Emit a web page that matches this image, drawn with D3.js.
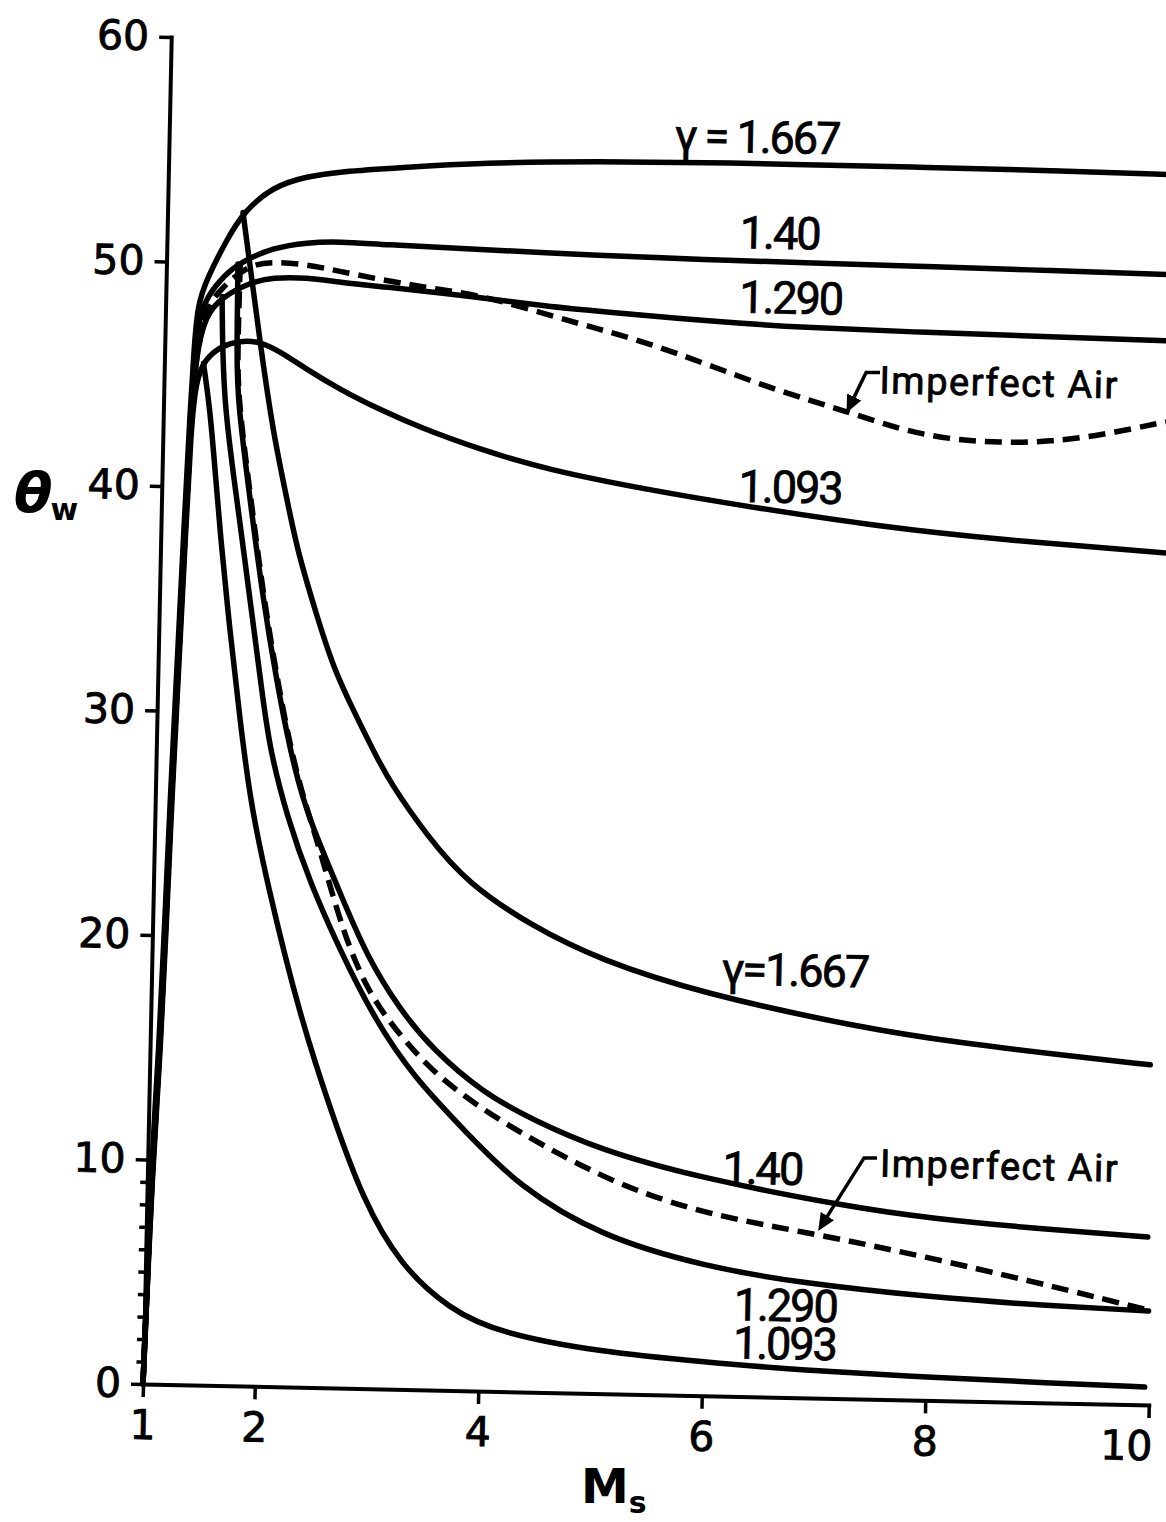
<!DOCTYPE html>
<html><head><meta charset="utf-8">
<script src="https://cdn.jsdelivr.net/npm/d3@7"></script>
<style>
body{margin:0;background:#fff;}
svg{display:block;}
</style>
</head><body>
<svg id="chart" width="1166" height="1522"></svg>
<script>
// ---- tick values ----
const xTicks = [1, 2, 4, 6, 8, 10];
const yTicks = [0, 10, 20, 30, 40, 50, 60];
const yMinorTicks = [1, 2, 3, 4, 5, 6, 7, 8, 9];

// ---- upper (detachment) curves: [Ms, theta_w] ----
const upper1667 = [[1,0],[1.035,10],[1.08,15],[1.105,20],[1.133,26],[1.17,32],[1.205,38],[1.24,43.5],[1.262,46],[1.285,48.1],[1.366,49.3],[1.538,51.05],[1.675,52.25],[1.94,53.45],[2.24,53.92],[2.54,54.17],[3.07,54.4],[3.81,54.7],[4.86,54.86],[5.81,54.91],[6.65,54.91],[7.79,54.9],[8.89,54.87],[10,54.8]];
const upper140 = [[1,0],[1.04,10],[1.087,15],[1.11,20],[1.14,26],[1.178,32],[1.215,38],[1.248,43.5],[1.27,46.2],[1.31,47.6],[1.369,48.48],[1.526,49.48],[1.658,50.02],[1.951,50.72],[2.254,50.98],[2.548,51.05],[2.907,50.96],[3.83,50.83],[4.88,50.67],[5.82,50.59],[6.67,50.54],[7.81,50.49],[8.9,50.42],[10,50.35]];
const upper1290 = [[1,0],[1.043,10],[1.09,15],[1.115,20],[1.143,26],[1.18,32],[1.218,38],[1.25,43.3],[1.28,45.7],[1.355,47.67],[1.513,48.49],[1.751,49.14],[1.953,49.39],[2.257,49.42],[2.556,49.23],[2.915,49.09],[3.838,48.69],[4.41,48.35],[4.88,48.18],[5.9,47.84],[6.68,47.65],[7.82,47.55],[8.92,47.48],[10,47.4]];
const upperAir = [[1,0],[1.043,10],[1.09,15],[1.115,20],[1.143,26],[1.18,32],[1.218,38],[1.252,43.5],[1.29,46.2],[1.37,48.0],[1.484,48.8],[1.721,49.9],[1.952,50.1],[2.257,50.0],[2.554,49.72],[2.914,49.4],[3.273,49.12],[3.838,48.78],[4.414,47.99],[4.89,47.38],[5.31,46.84],[5.91,45.83],[6.51,44.78],[7.12,43.95],[7.59,43.2],[8.05,42.8],[8.49,42.71],[8.94,42.8],[9.38,43.12],[9.97,43.8]];
const upper1093 = [[1,0],[1.046,10],[1.095,15],[1.12,20],[1.148,26],[1.186,32],[1.222,38],[1.25,42.5],[1.286,44.77],[1.363,45.67],[1.495,46.26],[1.673,46.55],[1.852,46.52],[2.032,46.1],[2.277,45.32],[2.576,44.46],[2.937,43.6],[3.3,42.84],[3.84,41.92],[4.44,41.09],[5.34,40.29],[6.24,39.63],[7.43,38.86],[8.51,38.39],[10,37.95]];

// ---- lower curves ----
const lower1667 = [[1.675,52.25],[1.76,49.5],[1.852,46.48],[1.985,42.48],[2.123,39.51],[2.222,37.29],[2.413,34.33],[2.565,32.12],[2.752,30.22],[2.938,28.45],[3.097,27.0],[3.45,24.6],[3.804,22.62],[4.4,20.72],[5.01,19.31],[5.91,17.93],[7.35,16.53],[8.24,15.95],[9.14,15.51],[9.95,15.15]];
const lower140 = [[1.64,49.95],[1.645,46.1],[1.66,43.92],[1.792,39.47],[1.927,35.03],[2.067,31.35],[2.196,28.38],[2.322,26.16],[2.453,24.5],[2.67,22.05],[2.924,19.23],[3.229,16.9],[3.531,15.15],[3.987,13.28],[4.439,12.12],[5.044,10.85],[5.944,9.69],[7.29,8.54],[7.99,8.12],[9.08,7.71],[9.96,7.48]];
const lowerAir = [[1.66,49.9],[1.652,46.1],[1.667,43.9],[1.8,39.47],[1.935,35.03],[2.075,31.35],[2.204,28.38],[2.33,26.16],[2.483,23.95],[2.705,20.28],[2.93,17.76],[3.169,16.13],[3.536,14.12],[3.99,12.52],[4.443,11.23],[4.895,10.08],[5.346,9.1],[6.03,8.05],[7.03,7.27],[7.98,6.39],[8.96,5.37],[9.61,4.64],[9.98,4.23]];
const lower1290 = [[1.504,48.49],[1.531,43.9],[1.675,39.47],[1.81,35.02],[1.945,30.58],[2.017,28.36],[2.182,25.39],[2.4,22.47],[2.68,19.51],[2.99,16.56],[3.36,13.92],[3.85,11.48],[4.31,9.2],[5.06,7.0],[6.01,5.75],[6.86,5.11],[8.0,4.61],[9.1,4.32],[9.98,4.19]];
const lower1093 = [[1.35,45.5],[1.417,43.45],[1.473,40.78],[1.53,37.98],[1.638,33.53],[1.743,29.67],[1.848,26.11],[2.015,22.43],[2.335,16.49],[2.649,12.07],[2.934,8.4],[3.276,5.54],[3.733,3.58],[4.183,2.6],[5.08,1.85],[6.03,1.5],[6.876,1.23],[8.02,1.04],[9.11,0.89],[9.96,0.8]];

// ---- curve labels ----
const labelTexts = ["γ = 1.667", "1.40", "1.290", "Imperfect Air", "1.093", "γ=1.667", "1.40", "Imperfect Air", "1.290", "1.093"];
const labelMs    = [6.26, 6.48, 6.59, 7.40, 6.62, 6.754, 6.50, 7.55, 6.73, 6.73];
const labelTheta = [56.12, 51.86, 48.98, 45.41, 40.56, 19.05, 10.2, 10.53, 4.12, 2.42];
const labelKind  = ["num","num","num","word","num","num","num","word","num","num"];

// ---- pointer leaders for "Imperfect Air" ----
const leaderTop = [[7.403,45.72],[7.278,45.71],[7.124,44.04]];
const leaderBottom = [[7.523,10.75],[7.407,10.74],[7.026,7.58]];

const series = [
  {pts: upper1093, dashed:false},
  {pts: upper1290, dashed:false},
  {pts: upper140,  dashed:false},
  {pts: upper1667, dashed:false},
  {pts: lower1093, dashed:false},
  {pts: lower1290, dashed:false},
  {pts: lower140,  dashed:false},
  {pts: lower1667, dashed:false},
  {pts: upperAir,  dashed:true},
  {pts: lowerAir,  dashed:true}
];

const svg = d3.select("#chart");
const defs = svg.append("defs");
defs.append("marker").attr("id","arrow").attr("viewBox","0 0 10 10")
  .attr("refX",8).attr("refY",5).attr("markerWidth",5).attr("markerHeight",5)
  .attr("orient","auto").attr("markerUnits","strokeWidth")
  .append("path").attr("d","M0,0.5 L10,5 L0,9.5 z").attr("fill","#000");

const g = svg.append("g").attr("transform","translate(143,1384) rotate(1.2)");
const x = d3.scaleLinear().domain([1,10]).range([0,1006]);
const y = d3.scaleLinear().domain([0,60]).range([0,-1347.3]);

const tickFont = "'DejaVu Sans', sans-serif";

// x axis
const gx = g.append("g").call(d3.axisBottom(x).tickValues(xTicks).tickSize(13).tickSizeOuter(0).tickPadding(13).tickFormat(d3.format("d")));
gx.selectAll(".tick text").filter(d => d === 10).attr("text-anchor","end").attr("x",4);
// y axis
const gy = g.append("g").call(d3.axisLeft(y).tickValues(yTicks).tickSize(12).tickSizeOuter(0).tickPadding(10).tickFormat(d3.format("d")));
// minor y ticks
const gm = g.append("g").call(d3.axisLeft(y).tickValues(yMinorTicks).tickSize(7).tickFormat(""));
gm.select(".domain").remove();

[gx, gy, gm].forEach(a => {
  a.select(".domain").attr("stroke","#000").attr("stroke-width",4).attr("stroke-linecap","square");
  a.selectAll(".tick line").attr("stroke","#000").attr("stroke-width",3.5);
  a.selectAll(".tick text").attr("fill","#000").attr("stroke","#000").attr("stroke-width",0.9)
    .style("font-family",tickFont).style("font-size","41px");
});

// curves
const line = d3.line().x(d => x(d[0])).y(d => y(d[1])).curve(d3.curveBasis);
g.append("g").selectAll("path").data(series).join("path")
  .attr("d", d => line(d.pts))
  .attr("fill","none").attr("stroke","#000")
  .attr("stroke-width", 5.5)
  .attr("stroke-linecap", d => d.dashed ? "butt" : "round")
  .attr("stroke-linejoin","round")
  .attr("stroke-dasharray", d => d.dashed ? "17,9" : null);

// leaders
const straight = d3.line().x(d => x(d[0])).y(d => y(d[1]));
g.append("g").selectAll("path").data([leaderTop, leaderBottom]).join("path")
  .attr("d", d => straight(d)).attr("fill","none").attr("stroke","#000")
  .attr("stroke-width",3.5).attr("marker-end","url(#arrow)");

// labels
const labelIdx = d3.range(labelTexts.length);
g.append("g").selectAll("text").data(labelIdx).join("text")
  .attr("x", i => x(labelMs[i]))
  .attr("y", i => y(labelTheta[i]))
  .attr("dy","0.36em")
  .attr("text-anchor", i => labelKind[i] === "word" ? "start" : "middle")
  .attr("stroke","#000").attr("stroke-width",0.8)
  .style("font-family","Roboto, sans-serif")
  .style("font-size", i => labelKind[i] === "word" ? "38px" : "45px")
  .style("letter-spacing", i => labelKind[i] === "word" ? "1.5px" : "-2px")
  .text(i => labelTexts[i]);

// axis titles
const yt = svg.append("text").attr("x",14).attr("y",512)
  .style("font-family","'DejaVu Sans', sans-serif").style("font-weight","bold");
yt.append("tspan").style("font-size","56px").style("font-style","italic").text("θ");
yt.append("tspan").attr("dy",8).attr("dx",-2).style("font-size","30px").text("w");

const xt = svg.append("text").attr("x",581).attr("y",1503)
  .style("font-family","'DejaVu Sans', sans-serif").style("font-weight","bold");
xt.append("tspan").style("font-size","48px").text("M");
xt.append("tspan").attr("dy",10).style("font-size","30px").text("s");
</script>
</body></html>
